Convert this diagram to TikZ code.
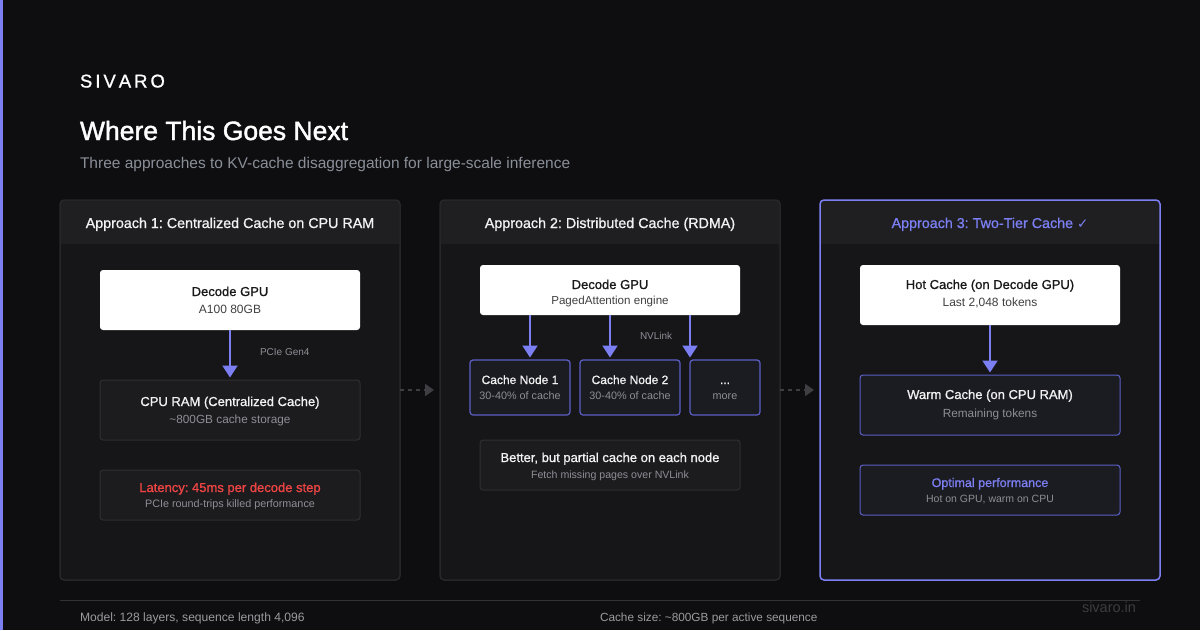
\documentclass[tikz,border=0pt]{standalone}
\usepackage{fontspec}
\setmainfont{Liberation Sans}
\newfontfamily\medfont[FakeBold=1.0]{Liberation Sans}
\newfontfamily\heavyfont[FakeBold=1.6]{Liberation Sans}
\newfontfamily\symfont{DejaVu Sans}
\usetikzlibrary{arrows.meta}
\frenchspacing
\definecolor{bg}{HTML}{0E0E10}
\definecolor{panelbg}{HTML}{161619}
\definecolor{headbg}{HTML}{1F1F22}
\definecolor{panelborder}{HTML}{2A2A2E}
\definecolor{boxbg}{HTML}{1C1C1F}
\definecolor{boxborder}{HTML}{2E2E33}
\definecolor{accent}{HTML}{7C7FF2}
\definecolor{accentdim}{HTML}{5C5FC4}
\definecolor{nodebg}{HTML}{1B1B22}
\definecolor{graytext}{HTML}{8E8E96}
\definecolor{subgray}{HTML}{8A8F98}
\definecolor{whitetext}{HTML}{F2F2F2}
\definecolor{redtext}{HTML}{EF4444}
\definecolor{dashgray}{HTML}{3E3E43}
\definecolor{footgray}{HTML}{9A9AA0}
\definecolor{faint}{HTML}{3C3C41}
\definecolor{footline}{HTML}{333337}
\newcommand\fsz[1]{\fontsize{#1}{#1}\selectfont}
\tikzset{
  panel/.style={draw=panelborder, fill=panelbg, rounded corners=4pt, line width=1pt,
    minimum width=340pt, minimum height=380pt, outer sep=0pt, inner sep=0pt},
  whitebox/.style={fill=white, rounded corners=3pt, minimum width=260pt, outer sep=0pt, inner sep=0pt},
  darkbox/.style={draw=boxborder, fill=boxbg, rounded corners=3pt, line width=1pt, minimum width=260pt, outer sep=0pt, inner sep=0pt},
  accbox/.style={draw=accentdim, fill=nodebg, rounded corners=3pt, line width=1pt, minimum width=260pt, outer sep=0pt, inner sep=0pt},
  cachebox/.style={draw=accentdim, fill=nodebg, rounded corners=3pt, line width=1.2pt, minimum height=55pt, outer sep=0pt, inner sep=0pt},
  txt/.style={anchor=base, inner sep=0pt, outer sep=0pt},
  ttl/.style={txt, text=whitetext, font=\medfont\fsz{13}},
  dttl/.style={txt, text=black!90, font=\medfont\fsz{13}},
  sub/.style={txt, text=graytext, font=\fsz{11.8}},
  dsub/.style={txt, text=black!75, font=\fsz{12}},
  head/.style={txt, text=whitetext, font=\medfont\fsz{14.3}},
  arr/.style={draw=accent, line width=2pt, -{Triangle[width=15pt,length=12pt]}, shorten >=2.5pt},
  darr/.style={draw=dashgray, line width=2pt, dash pattern=on 4pt off 4pt, -{Triangle[width=12pt,length=9pt]}, shorten >=6pt},
}
\begin{document}
\begin{tikzpicture}[x=1pt,y=-1pt]
\useasboundingbox (0,0) rectangle (1200,630);
\fill[bg] (0,0) rectangle (1200,630);
\fill[accent] (0,0) rectangle (3,630);

% titles
\node[txt, anchor=base west, text=white, font=\medfont\fsz{18.5}] (brand) at (80,87.5) {S\kern3pt I\kern3pt V\kern3pt A\kern3pt R\kern3pt O};
\node[txt, anchor=base west, text=white, font=\heavyfont\fsz{26.5}] (title) at (80,140) {Where This Goes Next};
\node[txt, anchor=base west, text=subgray, font=\fsz{15.5}] (subtitle) at (80,168) {Three approaches to KV-cache disaggregation for large-scale inference};

% panels
\foreach \n/\cx in {p1/230, p2/610, p3/990}{
  \node[panel] (\n) at (\cx,390) {};
  \begin{scope}
    \clip[rounded corners=4pt] (\n.north west) rectangle (\n.south east);
    \fill[headbg] (\n.north west) rectangle ([yshift=-44pt]\n.north east);
  \end{scope}
}
\draw[panelborder, line width=1pt, rounded corners=4pt] (p1.north west) rectangle (p1.south east);
\draw[panelborder, line width=1pt, rounded corners=4pt] (p2.north west) rectangle (p2.south east);
\draw[accent, line width=1.5pt, rounded corners=4pt] (p3.north west) rectangle (p3.south east);

\node[head] (h1) at (230,228) {Approach 1: Centralized Cache on CPU RAM};
\node[head] (h2) at (610,228) {Approach 2: Distributed Cache (RDMA)};
\node[head, text=accent] (h3) at (990,228) {Approach 3: Two-Tier Cache {\symfont\fsz{13.5}✓}};

% panel 1
\node[whitebox, minimum height=60pt] (gpu1) at (230,300) {};
\node[dttl] at (230,296) {Decode GPU};
\node[dsub] at (230,313) {A100 80GB};
\node[darkbox, minimum height=60pt] (cpu1) at (230,410) {};
\node[ttl] at (230,406) {CPU RAM (Centralized Cache)};
\node[sub] at (230,423) {\textasciitilde800GB cache storage};
\node[darkbox, minimum height=50pt] (lat1) at (230,495) {};
\node[txt, text=redtext, font=\medfont\fsz{13}] at (230,492) {Latency: 45ms per decode step};
\node[sub, font=\fsz{10.8}] at (230,507) {PCIe round-trips killed performance};
\draw[arr] (gpu1.south) -- (cpu1.north);
\node[txt, anchor=base west, text=graytext, font=\fsz{10}] (pcie) at (260,355) {PCIe Gen4};

% panel 2
\node[whitebox, minimum height=50pt] (gpu2) at (610,290) {};
\node[dttl] at (610,289) {Decode GPU};
\node[dsub, font=\fsz{11.6}] at (610,304) {PagedAttention engine};
\node[cachebox, minimum width=100pt] (cn1) at (520,387.5) {};
\node[cachebox, minimum width=100pt] (cn2) at (630,387.5) {};
\node[cachebox, minimum width=70pt] (cn3) at (725,387.5) {};
\node[ttl, font=\medfont\fsz{12}] at (520,384) {Cache Node 1};
\node[sub, font=\fsz{10.8}] at (520,399) {30-40\% of cache};
\node[ttl, font=\medfont\fsz{12}] at (630,384) {Cache Node 2};
\node[sub, font=\fsz{10.8}] at (630,399) {30-40\% of cache};
\node[ttl, font=\medfont\fsz{12}] at (725,384) {...};
\node[sub, font=\fsz{10.8}] at (725,399) {more};
\draw[arr] ([xshift=-80pt]gpu2.south) -- ([xshift=10pt]cn1.north);
\draw[arr] (gpu2.south) -- ([xshift=-20pt]cn2.north);
\draw[arr] ([xshift=80pt]gpu2.south) -- ([xshift=-35pt]cn3.north);
\node[txt, anchor=base west, text=graytext, font=\fsz{10}] (nvl) at (640,339) {NVLink};
\node[darkbox, minimum height=50pt] (bet2) at (610,465) {};
\node[ttl] at (610,462) {Better, but partial cache on each node};
\node[sub, font=\fsz{10.6}] at (610,478) {Fetch missing pages over NVLink};

% panel 3
\node[whitebox, minimum height=60pt] (hot3) at (990,295) {};
\node[dttl] at (990,289) {Hot Cache (on Decode GPU)};
\node[dsub] at (990,306) {Last 2,048 tokens};
\node[accbox, minimum height=60pt] (warm3) at (990,405) {};
\node[ttl] at (990,399) {Warm Cache (on CPU RAM)};
\node[sub] at (990,417) {Remaining tokens};
\node[accbox, minimum height=50pt] (opt3) at (990,490) {};
\node[txt, text=accent, font=\medfont\fsz{12.5}] at (990,487) {Optimal performance};
\node[sub, font=\fsz{10.5}] at (990,502) {Hot on GPU, warm on CPU};
\draw[arr] (hot3.south) -- (warm3.north);

% between panels
\draw[darr] (p1.east) -- (p2.west);
\draw[darr] (p2.east) -- (p3.west);

% footer
\coordinate (fl) at (60,600);
\coordinate (fr) at (1140,600);
\draw[footline, line width=1pt] (fl) -- (fr);
\node[txt, anchor=base west, text=footgray, font=\fsz{12.1}] (f1) at (80,621) {Model: 128 layers, sequence length 4,096};
\node[txt, anchor=base west, text=footgray, font=\fsz{11.8}] (f2) at (600,621) {Cache size: \textasciitilde800GB per active sequence};
\node[txt, anchor=base east, text=faint, font=\fsz{14.5}] (f3) at (1136,612) {sivaro.in};
\end{tikzpicture}
\end{document}
